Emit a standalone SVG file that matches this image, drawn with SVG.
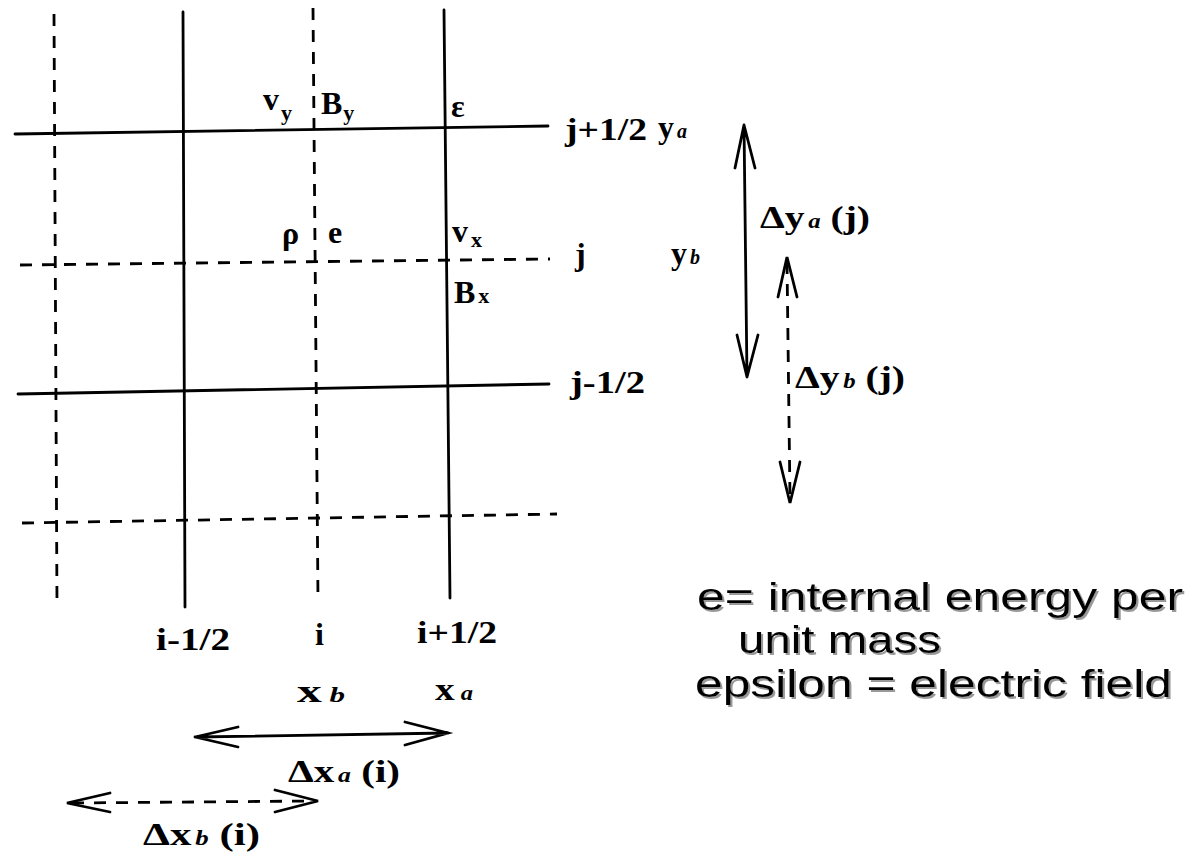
<svg xmlns="http://www.w3.org/2000/svg" width="1191" height="854" viewBox="0 0 1191 854">
<defs>
<filter id="sh" x="-5%" y="-20%" width="110%" height="140%">
<feDropShadow dx="2" dy="2" stdDeviation="0.6" flood-color="#999" flood-opacity="1"/>
</filter>
</defs>
<style>
.s{stroke:#000;stroke-width:2.8;fill:none;stroke-linecap:round}
.d{stroke:#000;stroke-width:2.8;fill:none;stroke-dasharray:12 10}
.t{font-family:"Liberation Serif","Times New Roman",serif;font-weight:bold;font-size:32px;fill:#000}
.sub{font-size:22px}
.it{font-style:italic;font-size:20px}
.lg{font-family:"Liberation Sans",Arial,sans-serif;font-size:38px;fill:#000}
</style>
<rect width="1191" height="854" fill="#fff"/>
<g id="grid">
<line class="d" x1="54" y1="14" x2="57" y2="605"/>
<line class="s" x1="183" y1="12" x2="185" y2="607"/>
<line class="d" x1="313" y1="8" x2="318" y2="600"/>
<line class="s" x1="444" y1="10" x2="450" y2="598"/>
<line class="s" x1="15" y1="134" x2="548" y2="126"/>
<line class="d" x1="20" y1="265" x2="550" y2="259"/>
<line class="s" x1="18" y1="394" x2="549" y2="384"/>
<line class="d" x1="22" y1="523" x2="557" y2="514"/>
</g>
<g id="connectors">
<path class="s" d="M744,125 L747,377 M735,168 L744,125 L755,168 M737,335 L747,377 L758,335"/>
<path class="d" d="M787,262 L790,498"/>
<path class="s" d="M778,297 L787,257 L797,297 M780,462 L790,503 L800,462"/>
<path class="s" d="M195,737 L448,733 M238,727 L195,737 L238,747 M405,722 L448,733 L405,745"/>
<path class="d" d="M72,803 L313,801"/>
<path class="s" d="M110,793 L67,803 L110,812 M275,790 L318,801 L275,812"/>
</g>
<g id="labels" class="t">
<text x="263" y="110">v<tspan class="sub" dx="2" dy="10">y</tspan></text>
<text x="321" y="114">B<tspan class="sub" dx="1" dy="6">y</tspan></text>
<text x="451" y="117">ε</text>
<text x="565" y="140" textLength="82" lengthAdjust="spacingAndGlyphs">j+1/2</text>
<text x="658" y="138">y<tspan class="it" dx="3">a</tspan></text>
<text x="282" y="244">ρ</text>
<text x="328" y="243">e</text>
<text x="452" y="242">v<tspan class="sub" dx="3" dy="5">x</tspan></text>
<text x="575" y="265">j</text>
<text x="671" y="264">y<tspan class="it" dx="3">b</tspan></text>
<text x="454" y="303">B<tspan class="sub" dx="3">x</tspan></text>
<text x="570" y="393" textLength="75" lengthAdjust="spacingAndGlyphs">j-1/2</text>
<text x="156" y="650" textLength="74" lengthAdjust="spacingAndGlyphs">i-1/2</text>
<text x="315" y="645">i</text>
<text x="417" y="643" textLength="80" lengthAdjust="spacingAndGlyphs">i+1/2</text>
<text x="297" y="702" textLength="48" lengthAdjust="spacingAndGlyphs">x<tspan class="it" dx="5">b</tspan></text>
<text x="435" y="700" textLength="38" lengthAdjust="spacingAndGlyphs">x<tspan class="it" dx="5">a</tspan></text>
<text x="288" y="782" textLength="112" lengthAdjust="spacingAndGlyphs">Δx<tspan class="it" dx="3">a</tspan> (i)</text>
<text x="143" y="845" textLength="117" lengthAdjust="spacingAndGlyphs">Δx<tspan class="it" dx="3">b</tspan> (i)</text>
<text x="760" y="228" textLength="110" lengthAdjust="spacingAndGlyphs">Δy<tspan class="it" dx="3">a</tspan> (j)</text>
<text x="795" y="388" textLength="110" lengthAdjust="spacingAndGlyphs">Δy<tspan class="it" dx="3">b</tspan> (j)</text>
</g>
<g id="legend" class="lg" filter="url(#sh)">
<text x="697" y="610" textLength="486" lengthAdjust="spacingAndGlyphs">e= internal energy per</text>
<text x="738" y="653" textLength="203" lengthAdjust="spacingAndGlyphs">unit mass</text>
<text x="695" y="697" textLength="477" lengthAdjust="spacingAndGlyphs">epsilon = electric field</text>
</g>
</svg>
